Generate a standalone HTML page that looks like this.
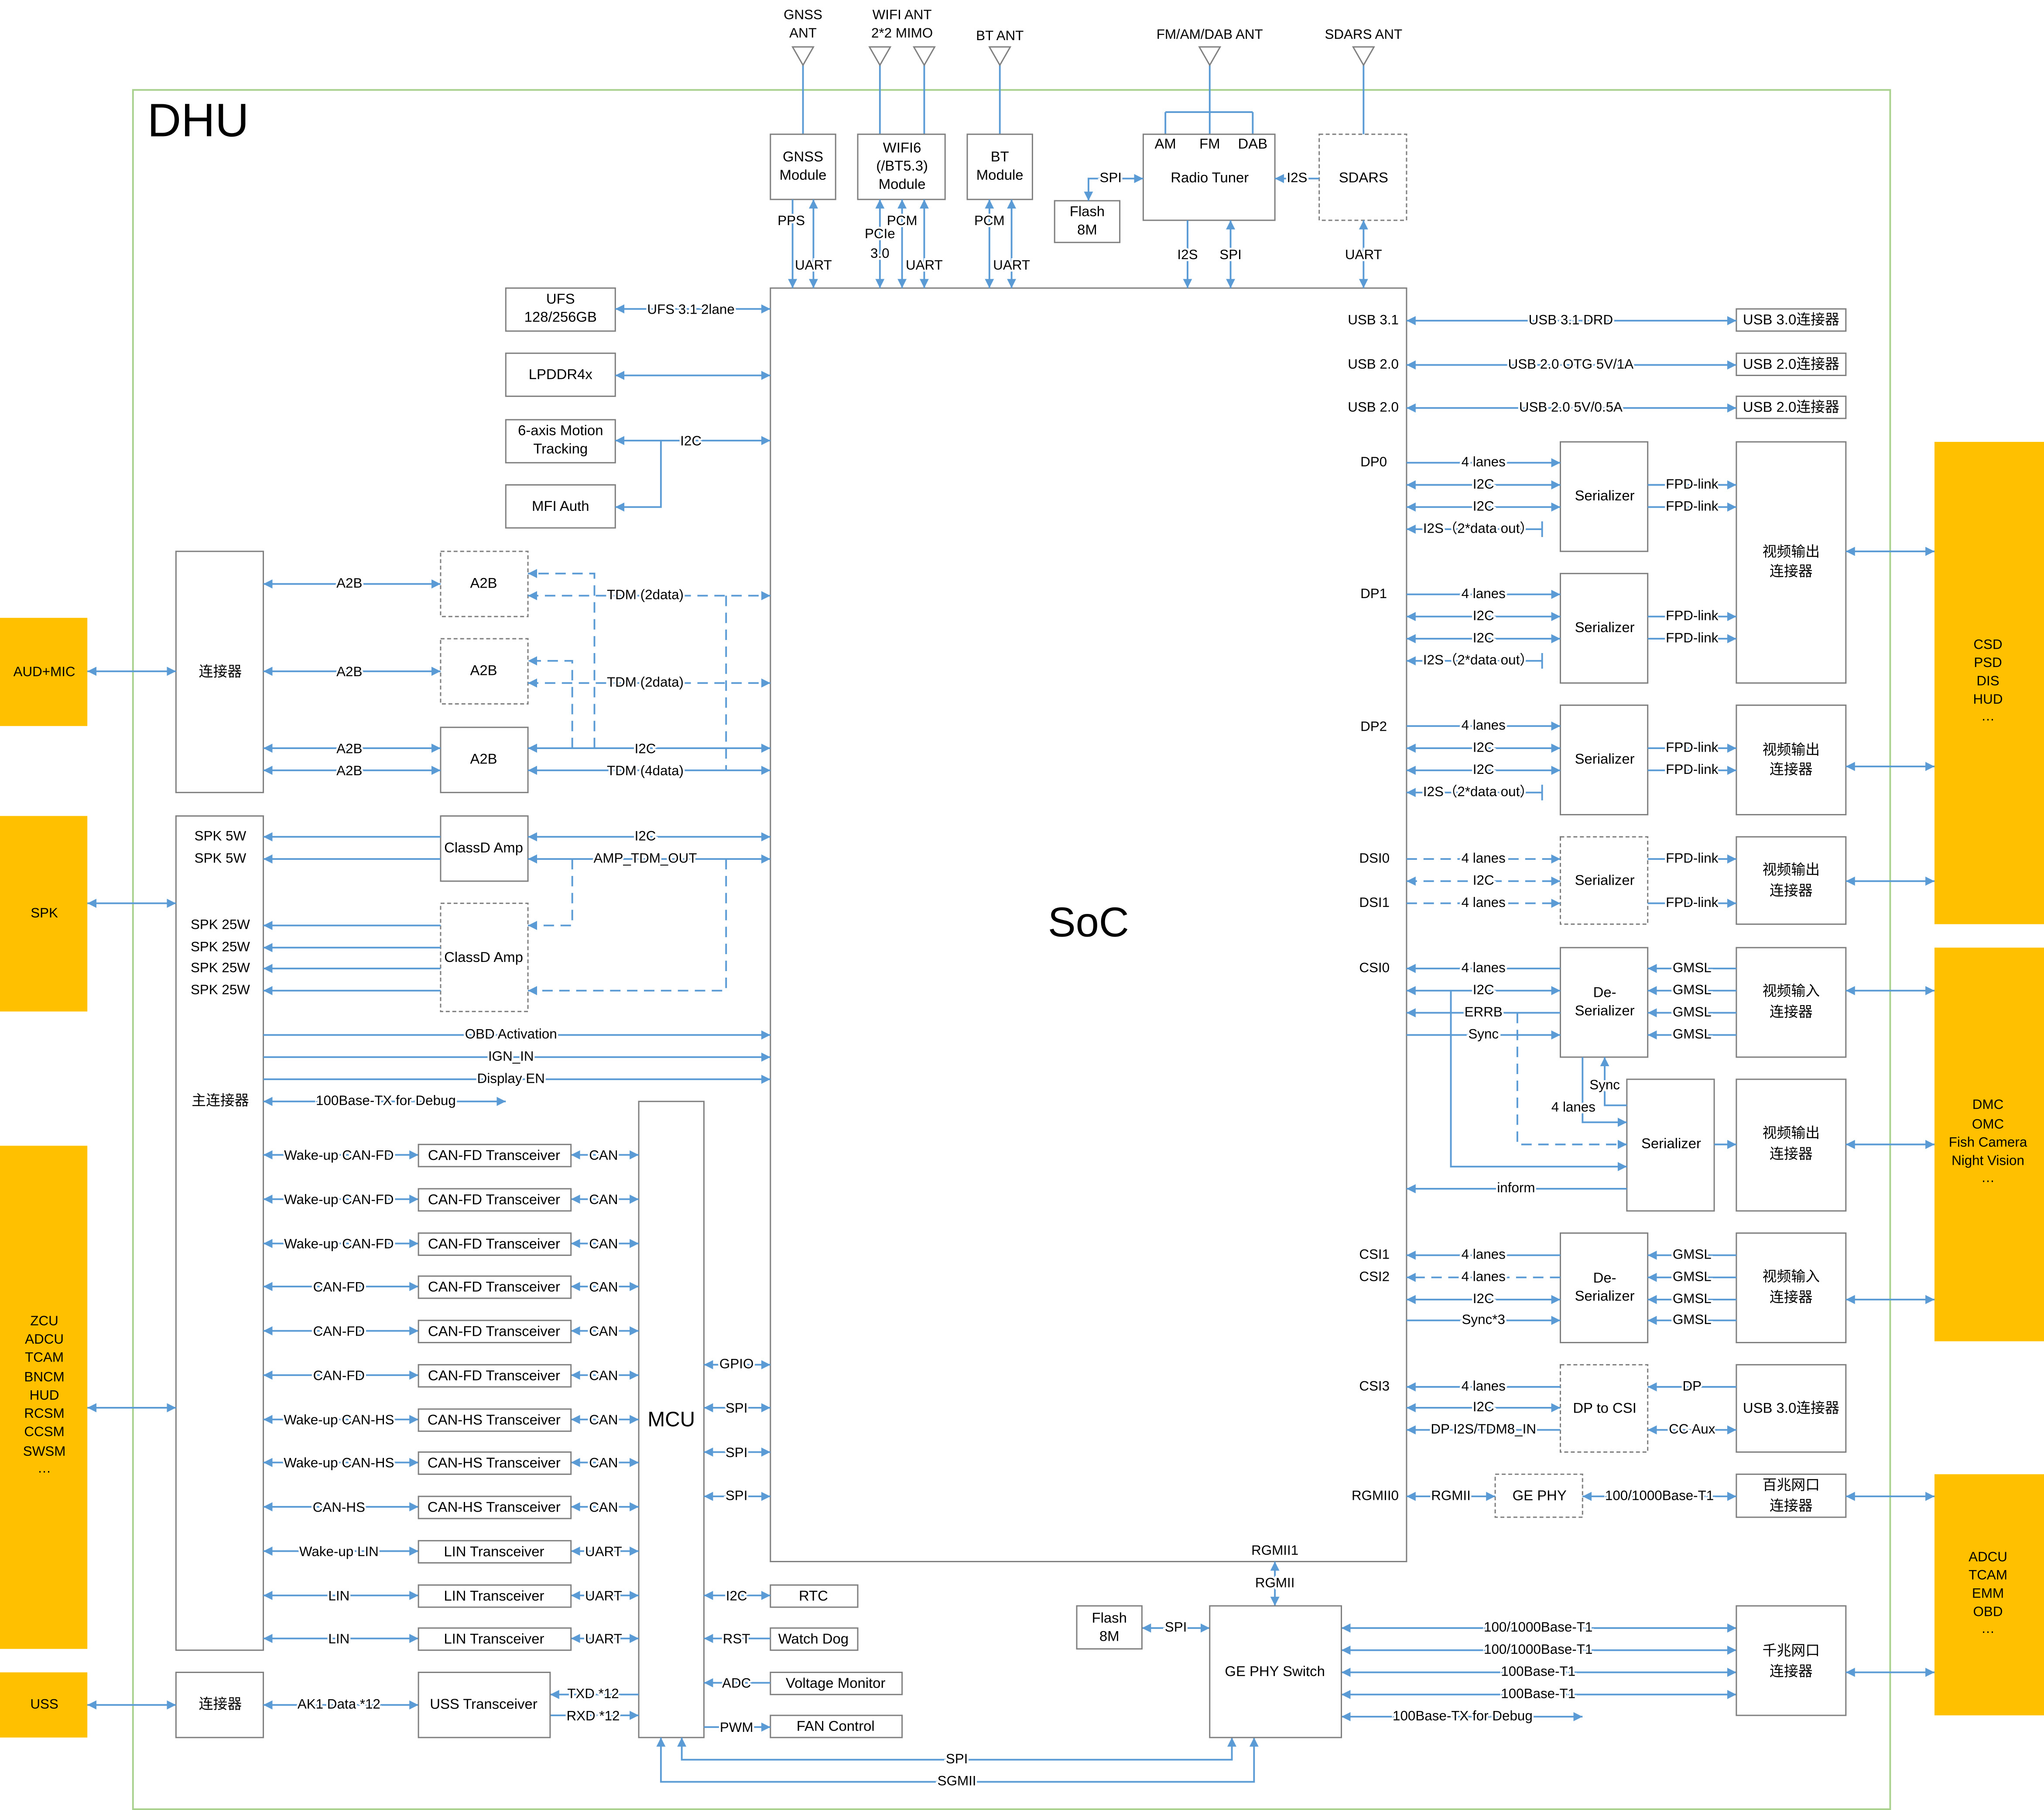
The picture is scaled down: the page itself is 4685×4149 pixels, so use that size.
<!DOCTYPE html>
<html><head><meta charset="utf-8"><style>
html,body{margin:0;padding:0;background:#fff}
svg{display:block}
.l{stroke:#5b9bd5;stroke-width:1.3;fill:none}
.d{stroke:#5b9bd5;stroke-width:1.3;fill:none;stroke-dasharray:8,5}
.b{fill:#fff;stroke:#7f7f7f;stroke-width:1}
.bd{fill:#fff;stroke:#7f7f7f;stroke-width:1;stroke-dasharray:3,2}
.y{fill:#ffc000;stroke:none}
text{font-family:"Liberation Sans","Noto Sans CJK SC",sans-serif;font-size:10.5px;fill:#000;text-anchor:middle;dominant-baseline:middle}
.t{stroke:#fff;stroke-width:3;paint-order:stroke}
.bt{font-size:11px}
</style></head><body>
<svg width="4685" height="4149" viewBox="0 0 1568 1388.6" preserveAspectRatio="none" xmlns="http://www.w3.org/2000/svg">
<defs>
<marker id="a" viewBox="0 0 10 10" refX="10" refY="5" markerWidth="7" markerHeight="7" orient="auto-start-reverse" markerUnits="userSpaceOnUse"><path d="M0,0L10,5L0,10z" fill="#5b9bd5"/></marker>
</defs>
<rect x="102" y="69" width="1348" height="1319" fill="none" stroke="#a9d18e" stroke-width="1.3"/>
<text x="113" y="95" style="font-size:36px;text-anchor:start">DHU</text>

<!-- yellow -->
<rect class="y" x="0" y="474" width="67" height="83"/><text x="34" y="516">AUD+MIC</text>
<rect class="y" x="0" y="626" width="67" height="150"/><text x="34" y="701">SPK</text>
<rect class="y" x="0" y="879" width="67" height="386"/>
<text x="34" y="1014">ZCU</text><text x="34" y="1028">ADCU</text><text x="34" y="1042">TCAM</text><text x="34" y="1057">BNCM</text><text x="34" y="1071">HUD</text><text x="34" y="1085">RCSM</text><text x="34" y="1099">CCSM</text><text x="34" y="1114">SWSM</text><text x="34" y="1127">…</text>
<rect class="y" x="0" y="1283" width="67" height="50"/><text x="34" y="1308">USS</text>
<rect class="y" x="1484" y="339" width="84" height="370"/>
<text x="1525" y="495">CSD</text><text x="1525" y="509">PSD</text><text x="1525" y="523">DIS</text><text x="1525" y="537">HUD</text><text x="1525" y="550">…</text>
<rect class="y" x="1484" y="727" width="84" height="302"/>
<text x="1525" y="848">DMC</text><text x="1525" y="863">OMC</text><text x="1525" y="877">Fish Camera</text><text x="1525" y="891">Night Vision</text><text x="1525" y="904">…</text>
<rect class="y" x="1484" y="1131" width="84" height="185"/>
<text x="1525" y="1195">ADCU</text><text x="1525" y="1209">TCAM</text><text x="1525" y="1223">EMM</text><text x="1525" y="1237">OBD</text><text x="1525" y="1250">…</text>

<!-- main blocks -->
<rect class="b" x="591" y="221" width="488" height="977"/><text x="835" y="710" style="font-size:32px">SoC</text>
<rect class="b" x="490" y="845" width="50" height="488"/><text x="515" y="1090" style="font-size:16px">MCU</text>
<rect class="b" x="135" y="423" width="67" height="185"/><text class="bt" x="169" y="516">连接器</text>
<rect class="b" x="135" y="626" width="67" height="640"/><text class="bt" x="169" y="845">主连接器</text>
<rect class="b" x="135" y="1283" width="67" height="50"/><text class="bt" x="169" y="1308">连接器</text>
<text x="169" y="642">SPK 5W</text><text x="169" y="659">SPK 5W</text>
<text x="169" y="710">SPK 25W</text><text x="169" y="727">SPK 25W</text><text x="169" y="743">SPK 25W</text><text x="169" y="760">SPK 25W</text>

<!-- top modules -->
<g class="l">
<path d="M616 50V103M675 50V103M709 50V103M767 50V103M928 50V86M894 86H961M894 86V103M928 86V103M961 86V103M1046 50V103"/>
</g>
<g fill="#fff" stroke="#7f7f7f">
<polygon points="608,36 624,36 616,50"/><polygon points="667,36 683,36 675,50"/><polygon points="701,36 717,36 709,50"/><polygon points="759,36 775,36 767,50"/><polygon points="920,36 936,36 928,50"/><polygon points="1038,36 1054,36 1046,50"/>
</g>
<text x="616" y="12">GNSS</text><text x="616" y="26">ANT</text>
<text x="692" y="12">WIFI ANT</text><text x="692" y="26">2*2 MIMO</text>
<text x="767" y="28">BT ANT</text><text x="928" y="27">FM/AM/DAB ANT</text><text x="1046" y="27">SDARS ANT</text>
<rect class="b" x="591" y="103" width="50" height="50"/><text class="bt" x="616" y="121">GNSS</text><text class="bt" x="616" y="135">Module</text>
<rect class="b" x="658" y="103" width="67" height="50"/><text class="bt" x="692" y="114">WIFI6</text><text class="bt" x="692" y="128">(/BT5.3)</text><text class="bt" x="692" y="142">Module</text>
<rect class="b" x="742" y="103" width="50" height="50"/><text class="bt" x="767" y="121">BT</text><text class="bt" x="767" y="135">Module</text>
<rect class="b" x="809" y="154" width="50" height="32"/><text class="bt" x="834" y="163">Flash</text><text class="bt" x="834" y="177">8M</text>
<rect class="b" x="877" y="103" width="101" height="66"/><text class="bt" x="894" y="111">AM</text><text class="bt" x="928" y="111">FM</text><text class="bt" x="961" y="111">DAB</text><text class="bt" x="928" y="137">Radio Tuner</text>
<rect class="bd" x="1012" y="103" width="67" height="66"/><text class="bt" x="1046" y="137">SDARS</text>
<g class="l">
<path d="M608 153V221" marker-end="url(#a)"/>
<path d="M624 153V221" marker-start="url(#a)" marker-end="url(#a)"/>
<path d="M675 153V221" marker-start="url(#a)" marker-end="url(#a)"/>
<path d="M692 153V221" marker-start="url(#a)" marker-end="url(#a)"/>
<path d="M709 153V221" marker-start="url(#a)" marker-end="url(#a)"/>
<path d="M759 153V221" marker-start="url(#a)" marker-end="url(#a)"/>
<path d="M776 153V221" marker-start="url(#a)" marker-end="url(#a)"/>
<path d="M877 137H835V154" marker-start="url(#a)" marker-end="url(#a)"/>
<path d="M1012 137H978" marker-end="url(#a)"/>
<path d="M911 169V221" marker-end="url(#a)"/>
<path d="M944 169V221" marker-start="url(#a)" marker-end="url(#a)"/>
<path d="M1046 169V221" marker-start="url(#a)" marker-end="url(#a)"/>
</g>
<text class="t" x="607" y="170">PPS</text><text class="t" x="624" y="204">UART</text>
<text class="t" x="675" y="180">PCIe</text><text class="t" x="675" y="195">3.0</text><text class="t" x="692" y="170">PCM</text><text class="t" x="709" y="204">UART</text>
<text class="t" x="759" y="170">PCM</text><text class="t" x="776" y="204">UART</text>
<text class="t" x="852" y="137">SPI</text><text class="t" x="995" y="137">I2S</text>
<text class="t" x="911" y="196">I2S</text><text class="t" x="944" y="196">SPI</text><text class="t" x="1046" y="196">UART</text>

<!-- left of SoC -->
<rect class="b" x="388" y="221" width="84" height="33"/><text class="bt" x="430" y="230">UFS</text><text class="bt" x="430" y="244">128/256GB</text>
<rect class="b" x="388" y="271" width="84" height="33"/><text class="bt" x="430" y="288">LPDDR4x</text>
<rect class="b" x="388" y="322" width="84" height="33"/><text class="bt" x="430" y="331">6-axis Motion</text><text class="bt" x="430" y="345">Tracking</text>
<rect class="b" x="388" y="372" width="84" height="33"/><text class="bt" x="430" y="389">MFI Auth</text>
<rect class="bd" x="338" y="423" width="67" height="50"/><text class="bt" x="371" y="448">A2B</text>
<rect class="bd" x="338" y="490" width="67" height="50"/><text class="bt" x="371" y="515">A2B</text>
<rect class="b" x="338" y="558" width="67" height="50"/><text class="bt" x="371" y="583">A2B</text>
<rect class="b" x="338" y="626" width="67" height="50"/><text class="bt" x="371" y="651">ClassD Amp</text>
<rect class="bd" x="338" y="693" width="67" height="83"/><text class="bt" x="371" y="735">ClassD Amp</text>
<g class="l">
<path d="M472 237H591" marker-start="url(#a)" marker-end="url(#a)"/>
<path d="M472 288H591" marker-start="url(#a)" marker-end="url(#a)"/>
<path d="M472 338H591" marker-start="url(#a)" marker-end="url(#a)"/>
<path d="M507 338V389H472" marker-end="url(#a)"/>
<path d="M202 448H338" marker-start="url(#a)" marker-end="url(#a)"/>
<path d="M202 515H338" marker-start="url(#a)" marker-end="url(#a)"/>
<path d="M202 574H338" marker-start="url(#a)" marker-end="url(#a)"/>
<path d="M202 591H338" marker-start="url(#a)" marker-end="url(#a)"/>
<path d="M405 574H591" marker-start="url(#a)" marker-end="url(#a)"/>
<path d="M405 591H591" marker-start="url(#a)" marker-end="url(#a)"/>
<path d="M338 642H202" marker-end="url(#a)"/><path d="M338 659H202" marker-end="url(#a)"/>
<path d="M338 710H202" marker-end="url(#a)"/><path d="M338 727H202" marker-end="url(#a)"/>
<path d="M338 743H202" marker-end="url(#a)"/><path d="M338 760H202" marker-end="url(#a)"/>
<path d="M405 642H591" marker-start="url(#a)" marker-end="url(#a)"/>
<path d="M405 659H591" marker-start="url(#a)" marker-end="url(#a)"/>
<path d="M202 794H591" marker-end="url(#a)"/>
<path d="M202 811H591" marker-end="url(#a)"/>
<path d="M202 828H591" marker-end="url(#a)"/>
<path d="M202 845H388" marker-start="url(#a)" marker-end="url(#a)"/>
</g>
<g class="d">
<path d="M405 457H591" marker-start="url(#a)" marker-end="url(#a)"/>
<path d="M405 524H591" marker-start="url(#a)" marker-end="url(#a)"/>
<path d="M456 574V440H405" marker-end="url(#a)"/>
<path d="M439 574V507H405" marker-end="url(#a)"/>
<path d="M557 457V591"/>
<path d="M439 659V710H405" marker-end="url(#a)"/>
<path d="M557 659V760H405" marker-end="url(#a)"/>
</g>
<text class="t" x="530" y="238">UFS 3.1 2lane</text><text class="t" x="530" y="339">I2C</text>
<text class="t" x="268" y="448">A2B</text><text class="t" x="268" y="516">A2B</text><text class="t" x="268" y="575">A2B</text><text class="t" x="268" y="592">A2B</text>
<text class="t" x="495" y="457">TDM (2data)</text><text class="t" x="495" y="524">TDM (2data)</text>
<text class="t" x="495" y="575">I2C</text><text class="t" x="495" y="592">TDM (4data)</text>
<text class="t" x="495" y="642">I2C</text><text class="t" x="495" y="659">AMP_TDM_OUT</text>
<text class="t" x="392" y="794">OBD Activation</text><text class="t" x="392" y="811">IGN_IN</text><text class="t" x="392" y="828">Display EN</text>
<text class="t" x="296" y="845">100Base-TX for Debug</text>

<!-- transceivers -->
<g class="l">
<path d="M202 886H321" marker-start="url(#a)" marker-end="url(#a)"/><path d="M438 886H490" marker-start="url(#a)" marker-end="url(#a)"/>
<path d="M202 920H321" marker-start="url(#a)" marker-end="url(#a)"/><path d="M438 920H490" marker-start="url(#a)" marker-end="url(#a)"/>
<path d="M202 954H321" marker-start="url(#a)" marker-end="url(#a)"/><path d="M438 954H490" marker-start="url(#a)" marker-end="url(#a)"/>
<path d="M202 987H321" marker-start="url(#a)" marker-end="url(#a)"/><path d="M438 987H490" marker-start="url(#a)" marker-end="url(#a)"/>
<path d="M202 1021H321" marker-start="url(#a)" marker-end="url(#a)"/><path d="M438 1021H490" marker-start="url(#a)" marker-end="url(#a)"/>
<path d="M202 1055H321" marker-start="url(#a)" marker-end="url(#a)"/><path d="M438 1055H490" marker-start="url(#a)" marker-end="url(#a)"/>
<path d="M202 1089H321" marker-start="url(#a)" marker-end="url(#a)"/><path d="M438 1089H490" marker-start="url(#a)" marker-end="url(#a)"/>
<path d="M202 1122H321" marker-start="url(#a)" marker-end="url(#a)"/><path d="M438 1122H490" marker-start="url(#a)" marker-end="url(#a)"/>
<path d="M202 1156H321" marker-start="url(#a)" marker-end="url(#a)"/><path d="M438 1156H490" marker-start="url(#a)" marker-end="url(#a)"/>
<path d="M202 1190H321" marker-start="url(#a)" marker-end="url(#a)"/><path d="M438 1190H490" marker-start="url(#a)" marker-end="url(#a)"/>
<path d="M202 1224H321" marker-start="url(#a)" marker-end="url(#a)"/><path d="M438 1224H490" marker-start="url(#a)" marker-end="url(#a)"/>
<path d="M202 1257H321" marker-start="url(#a)" marker-end="url(#a)"/><path d="M438 1257H490" marker-start="url(#a)" marker-end="url(#a)"/>
<path d="M202 1308H321" marker-start="url(#a)" marker-end="url(#a)"/>
<path d="M490 1300H422" marker-end="url(#a)"/><path d="M422 1316H490" marker-end="url(#a)"/>
</g>
<g>
<rect class="b" x="321" y="878" width="117" height="17"/><text class="bt" x="379" y="887">CAN-FD Transceiver</text>
<rect class="b" x="321" y="912" width="117" height="17"/><text class="bt" x="379" y="921">CAN-FD Transceiver</text>
<rect class="b" x="321" y="946" width="117" height="17"/><text class="bt" x="379" y="955">CAN-FD Transceiver</text>
<rect class="b" x="321" y="979" width="117" height="17"/><text class="bt" x="379" y="988">CAN-FD Transceiver</text>
<rect class="b" x="321" y="1013" width="117" height="17"/><text class="bt" x="379" y="1022">CAN-FD Transceiver</text>
<rect class="b" x="321" y="1047" width="117" height="17"/><text class="bt" x="379" y="1056">CAN-FD Transceiver</text>
<rect class="b" x="321" y="1081" width="117" height="17"/><text class="bt" x="379" y="1090">CAN-HS Transceiver</text>
<rect class="b" x="321" y="1114" width="117" height="17"/><text class="bt" x="379" y="1123">CAN-HS Transceiver</text>
<rect class="b" x="321" y="1148" width="117" height="17"/><text class="bt" x="379" y="1157">CAN-HS Transceiver</text>
<rect class="b" x="321" y="1182" width="117" height="17"/><text class="bt" x="379" y="1191">LIN Transceiver</text>
<rect class="b" x="321" y="1216" width="117" height="17"/><text class="bt" x="379" y="1225">LIN Transceiver</text>
<rect class="b" x="321" y="1249" width="117" height="17"/><text class="bt" x="379" y="1258">LIN Transceiver</text>
<rect class="b" x="321" y="1283" width="101" height="50"/><text class="bt" x="371" y="1308">USS Transceiver</text>
</g>
<text class="t" x="260" y="887">Wake-up CAN-FD</text><text class="t" x="260" y="921">Wake-up CAN-FD</text><text class="t" x="260" y="955">Wake-up CAN-FD</text>
<text class="t" x="260" y="988">CAN-FD</text><text class="t" x="260" y="1022">CAN-FD</text><text class="t" x="260" y="1056">CAN-FD</text>
<text class="t" x="260" y="1090">Wake-up CAN-HS</text><text class="t" x="260" y="1123">Wake-up CAN-HS</text><text class="t" x="260" y="1157">CAN-HS</text>
<text class="t" x="260" y="1191">Wake-up LIN</text><text class="t" x="260" y="1225">LIN</text><text class="t" x="260" y="1258">LIN</text>
<text class="t" x="260" y="1308">AK1 Data *12</text>
<text class="t" x="463" y="887">CAN</text><text class="t" x="463" y="921">CAN</text><text class="t" x="463" y="955">CAN</text><text class="t" x="463" y="988">CAN</text><text class="t" x="463" y="1022">CAN</text><text class="t" x="463" y="1056">CAN</text><text class="t" x="463" y="1090">CAN</text><text class="t" x="463" y="1123">CAN</text><text class="t" x="463" y="1157">CAN</text>
<text class="t" x="463" y="1191">UART</text><text class="t" x="463" y="1225">UART</text><text class="t" x="463" y="1258">UART</text>
<text class="t" x="455" y="1300">TXD *12</text><text class="t" x="455" y="1317">RXD *12</text>

<!-- MCU right -->
<rect class="b" x="591" y="1216" width="67" height="17"/><text class="bt" x="624" y="1225">RTC</text>
<rect class="b" x="591" y="1249" width="67" height="17"/><text class="bt" x="624" y="1258">Watch Dog</text>
<rect class="b" x="591" y="1283" width="101" height="17"/><text class="bt" x="641" y="1292">Voltage Monitor</text>
<rect class="b" x="591" y="1316" width="101" height="17"/><text class="bt" x="641" y="1325">FAN Control</text>
<g class="l">
<path d="M540 1047H591" marker-start="url(#a)" marker-end="url(#a)"/>
<path d="M540 1080H591" marker-start="url(#a)" marker-end="url(#a)"/>
<path d="M540 1114H591" marker-start="url(#a)" marker-end="url(#a)"/>
<path d="M540 1148H591" marker-start="url(#a)" marker-end="url(#a)"/>
<path d="M540 1224H591" marker-start="url(#a)" marker-end="url(#a)"/>
<path d="M591 1257H540" marker-end="url(#a)"/>
<path d="M591 1291H540" marker-end="url(#a)"/>
<path d="M540 1325H591" marker-end="url(#a)"/>
<path d="M523 1333V1350H945V1333" marker-start="url(#a)" marker-end="url(#a)"/>
<path d="M507 1333V1367H962V1333" marker-start="url(#a)" marker-end="url(#a)"/>
<path d="M978 1198V1232" marker-start="url(#a)" marker-end="url(#a)"/>
<path d="M876 1249H928" marker-start="url(#a)" marker-end="url(#a)"/>
<path d="M1029 1249H1332" marker-start="url(#a)" marker-end="url(#a)"/>
<path d="M1029 1266H1332" marker-start="url(#a)" marker-end="url(#a)"/>
<path d="M1029 1283H1332" marker-start="url(#a)" marker-end="url(#a)"/>
<path d="M1029 1300H1332" marker-start="url(#a)" marker-end="url(#a)"/>
<path d="M1029 1317H1214" marker-start="url(#a)" marker-end="url(#a)"/>
</g>
<text class="t" x="565" y="1047">GPIO</text><text class="t" x="565" y="1081">SPI</text><text class="t" x="565" y="1115">SPI</text><text class="t" x="565" y="1148">SPI</text>
<text class="t" x="565" y="1225">I2C</text><text class="t" x="565" y="1258">RST</text><text class="t" x="565" y="1292">ADC</text><text class="t" x="565" y="1326">PWM</text>
<text class="t" x="734" y="1350">SPI</text><text class="t" x="734" y="1367">SGMII</text>
<text x="978" y="1190">RGMII1</text><text class="t" x="978" y="1215">RGMII</text>
<rect class="b" x="826" y="1232" width="50" height="33"/><text class="bt" x="851" y="1242">Flash</text><text class="bt" x="851" y="1256">8M</text>
<text class="t" x="902" y="1249">SPI</text>
<rect class="b" x="928" y="1232" width="101" height="101"/><text class="bt" x="978" y="1283">GE PHY Switch</text>
<text class="t" x="1180" y="1249">100/1000Base-T1</text><text class="t" x="1180" y="1266">100/1000Base-T1</text>
<text class="t" x="1180" y="1283">100Base-T1</text><text class="t" x="1180" y="1300">100Base-T1</text>
<text class="t" x="1122" y="1317">100Base-TX for Debug</text>

<!-- right side -->
<g>
<rect class="b" x="1332" y="237" width="84" height="17"/><text class="bt" x="1374" y="246">USB 3.0连接器</text>
<rect class="b" x="1332" y="271" width="84" height="17"/><text class="bt" x="1374" y="280">USB 2.0连接器</text>
<rect class="b" x="1332" y="304" width="84" height="17"/><text class="bt" x="1374" y="313">USB 2.0连接器</text>
<rect class="b" x="1197" y="339" width="67" height="84"/><text class="bt" x="1231" y="381">Serializer</text>
<rect class="b" x="1197" y="440" width="67" height="84"/><text class="bt" x="1231" y="482">Serializer</text>
<rect class="b" x="1197" y="541" width="67" height="84"/><text class="bt" x="1231" y="583">Serializer</text>
<rect class="bd" x="1197" y="642" width="67" height="67"/><text class="bt" x="1231" y="676">Serializer</text>
<rect class="b" x="1197" y="727" width="67" height="84"/><text class="bt" x="1231" y="762">De-</text><text class="bt" x="1231" y="776">Serializer</text>
<rect class="b" x="1248" y="828" width="67" height="101"/><text class="bt" x="1282" y="878">Serializer</text>
<rect class="b" x="1197" y="946" width="67" height="84"/><text class="bt" x="1231" y="981">De-</text><text class="bt" x="1231" y="995">Serializer</text>
<rect class="bd" x="1197" y="1047" width="67" height="67"/><text class="bt" x="1231" y="1081">DP to CSI</text>
<rect class="bd" x="1147" y="1131" width="67" height="33"/><text class="bt" x="1181" y="1148">GE PHY</text>
<rect class="b" x="1332" y="339" width="84" height="185"/><text class="bt" x="1374" y="424">视频输出</text><text class="bt" x="1374" y="439">连接器</text>
<rect class="b" x="1332" y="541" width="84" height="84"/><text class="bt" x="1374" y="576">视频输出</text><text class="bt" x="1374" y="591">连接器</text>
<rect class="b" x="1332" y="642" width="84" height="67"/><text class="bt" x="1374" y="668">视频输出</text><text class="bt" x="1374" y="684">连接器</text>
<rect class="b" x="1332" y="727" width="84" height="84"/><text class="bt" x="1374" y="761">视频输入</text><text class="bt" x="1374" y="777">连接器</text>
<rect class="b" x="1332" y="828" width="84" height="101"/><text class="bt" x="1374" y="870">视频输出</text><text class="bt" x="1374" y="886">连接器</text>
<rect class="b" x="1332" y="946" width="84" height="84"/><text class="bt" x="1374" y="980">视频输入</text><text class="bt" x="1374" y="996">连接器</text>
<rect class="b" x="1332" y="1047" width="84" height="67"/><text class="bt" x="1374" y="1081">USB 3.0连接器</text>
<rect class="b" x="1332" y="1131" width="84" height="33"/><text class="bt" x="1374" y="1140">百兆网口</text><text class="bt" x="1374" y="1156">连接器</text>
<rect class="b" x="1332" y="1232" width="84" height="84"/><text class="bt" x="1374" y="1267">千兆网口</text><text class="bt" x="1374" y="1283">连接器</text>
</g>
<g style="text-anchor:end">
<text x="1073" y="246" style="text-anchor:end">USB 3.1</text><text x="1073" y="280" style="text-anchor:end">USB 2.0</text><text x="1073" y="313" style="text-anchor:end">USB 2.0</text>
<text x="1064" y="355" style="text-anchor:end">DP0</text><text x="1064" y="456" style="text-anchor:end">DP1</text><text x="1064" y="558" style="text-anchor:end">DP2</text>
<text x="1066" y="659" style="text-anchor:end">DSI0</text><text x="1066" y="693" style="text-anchor:end">DSI1</text><text x="1066" y="743" style="text-anchor:end">CSI0</text>
<text x="1066" y="963" style="text-anchor:end">CSI1</text><text x="1066" y="980" style="text-anchor:end">CSI2</text><text x="1066" y="1064" style="text-anchor:end">CSI3</text>
<text x="1073" y="1148" style="text-anchor:end">RGMII0</text>
</g>
<g class="l">
<path d="M1079 246H1332" marker-start="url(#a)" marker-end="url(#a)"/>
<path d="M1079 280H1332" marker-start="url(#a)" marker-end="url(#a)"/>
<path d="M1079 313H1332" marker-start="url(#a)" marker-end="url(#a)"/>
<path d="M1079 355H1197" marker-end="url(#a)"/><path d="M1079 372H1197" marker-start="url(#a)" marker-end="url(#a)"/><path d="M1079 389H1197" marker-start="url(#a)" marker-end="url(#a)"/><path d="M1183 406H1079" marker-end="url(#a)"/>
<path d="M1264 372H1332" marker-end="url(#a)"/><path d="M1264 389H1332" marker-end="url(#a)"/>
<path d="M1079 456H1197" marker-end="url(#a)"/><path d="M1079 473H1197" marker-start="url(#a)" marker-end="url(#a)"/><path d="M1079 490H1197" marker-start="url(#a)" marker-end="url(#a)"/><path d="M1183 507H1079" marker-end="url(#a)"/>
<path d="M1264 473H1332" marker-end="url(#a)"/><path d="M1264 490H1332" marker-end="url(#a)"/>
<path d="M1079 557H1197" marker-end="url(#a)"/><path d="M1079 574H1197" marker-start="url(#a)" marker-end="url(#a)"/><path d="M1079 591H1197" marker-start="url(#a)" marker-end="url(#a)"/><path d="M1183 608H1079" marker-end="url(#a)"/>
<path d="M1264 574H1332" marker-end="url(#a)"/><path d="M1264 591H1332" marker-end="url(#a)"/>
<path d="M1264 659H1332" marker-end="url(#a)"/><path d="M1264 693H1332" marker-end="url(#a)"/>
<path d="M1197 743H1079" marker-end="url(#a)"/><path d="M1079 760H1197" marker-start="url(#a)" marker-end="url(#a)"/><path d="M1197 777H1079" marker-end="url(#a)"/><path d="M1079 794H1197" marker-end="url(#a)"/>
<path d="M1332 743H1264" marker-end="url(#a)"/><path d="M1332 760H1264" marker-end="url(#a)"/><path d="M1332 777H1264" marker-end="url(#a)"/><path d="M1332 794H1264" marker-end="url(#a)"/>
<path d="M1113 760V895H1248" marker-end="url(#a)"/>
<path d="M1214 811V861H1248" marker-end="url(#a)"/>
<path d="M1248 848H1231V811" marker-end="url(#a)"/>
<path d="M1248 912H1079" marker-end="url(#a)"/>
<path d="M1315 878H1332" marker-end="url(#a)"/>
<path d="M1197 963H1079" marker-end="url(#a)"/><path d="M1079 997H1197" marker-start="url(#a)" marker-end="url(#a)"/><path d="M1079 1013H1197" marker-end="url(#a)"/>
<path d="M1332 963H1264" marker-end="url(#a)"/><path d="M1332 980H1264" marker-end="url(#a)"/><path d="M1332 997H1264" marker-end="url(#a)"/><path d="M1332 1013H1264" marker-end="url(#a)"/>
<path d="M1197 1064H1079" marker-end="url(#a)"/><path d="M1079 1080H1197" marker-start="url(#a)" marker-end="url(#a)"/><path d="M1197 1097H1079" marker-end="url(#a)"/>
<path d="M1332 1064H1264" marker-end="url(#a)"/><path d="M1264 1097H1332" marker-start="url(#a)" marker-end="url(#a)"/>
<path d="M1079 1148H1147" marker-start="url(#a)" marker-end="url(#a)"/><path d="M1214 1148H1332" marker-start="url(#a)" marker-end="url(#a)"/>
<path d="M1416 423H1484" marker-start="url(#a)" marker-end="url(#a)"/>
<path d="M1416 588H1484" marker-start="url(#a)" marker-end="url(#a)"/>
<path d="M1416 676H1484" marker-start="url(#a)" marker-end="url(#a)"/>
<path d="M1416 760H1484" marker-start="url(#a)" marker-end="url(#a)"/>
<path d="M1416 878H1484" marker-start="url(#a)" marker-end="url(#a)"/>
<path d="M1416 997H1484" marker-start="url(#a)" marker-end="url(#a)"/>
<path d="M1416 1148H1484" marker-start="url(#a)" marker-end="url(#a)"/>
<path d="M1416 1283H1484" marker-start="url(#a)" marker-end="url(#a)"/>
<path d="M67 515H135" marker-start="url(#a)" marker-end="url(#a)"/>
<path d="M67 693H135" marker-start="url(#a)" marker-end="url(#a)"/>
<path d="M67 1080H135" marker-start="url(#a)" marker-end="url(#a)"/>
<path d="M67 1308H135" marker-start="url(#a)" marker-end="url(#a)"/>
</g>
<g class="d">
<path d="M1079 659H1197" marker-end="url(#a)"/><path d="M1079 676H1197" marker-start="url(#a)" marker-end="url(#a)"/><path d="M1079 693H1197" marker-end="url(#a)"/>
<path d="M1164 777V878H1248" marker-end="url(#a)"/>
<path d="M1197 980H1079" marker-end="url(#a)"/>
</g>
<g stroke="#5b9bd5" stroke-width="1.3"><path d="M1183 400V412M1183 501V513M1183 602V614"/></g>
<text class="t" x="1205" y="246">USB 3.1 DRD</text><text class="t" x="1205" y="280">USB 2.0 OTG  5V/1A</text><text class="t" x="1205" y="313">USB 2.0  5V/0.5A</text>
<text class="t" x="1138" y="355">4 lanes</text><text class="t" x="1138" y="372">I2C</text><text class="t" x="1138" y="389">I2C</text><text class="t" x="1134" y="406">I2S（2*data out）</text>
<text class="t" x="1138" y="456">4 lanes</text><text class="t" x="1138" y="473">I2C</text><text class="t" x="1138" y="490">I2C</text><text class="t" x="1134" y="507">I2S（2*data out）</text>
<text class="t" x="1138" y="557">4 lanes</text><text class="t" x="1138" y="574">I2C</text><text class="t" x="1138" y="591">I2C</text><text class="t" x="1134" y="608">I2S（2*data out）</text>
<text class="t" x="1298" y="372">FPD-link</text><text class="t" x="1298" y="389">FPD-link</text>
<text class="t" x="1298" y="473">FPD-link</text><text class="t" x="1298" y="490">FPD-link</text>
<text class="t" x="1298" y="574">FPD-link</text><text class="t" x="1298" y="591">FPD-link</text>
<text class="t" x="1138" y="659">4 lanes</text><text class="t" x="1138" y="676">I2C</text><text class="t" x="1138" y="693">4 lanes</text>
<text class="t" x="1298" y="659">FPD-link</text><text class="t" x="1298" y="693">FPD-link</text>
<text class="t" x="1138" y="743">4 lanes</text><text class="t" x="1138" y="760">I2C</text><text class="t" x="1138" y="777">ERRB</text><text class="t" x="1138" y="794">Sync</text>
<text class="t" x="1298" y="743">GMSL</text><text class="t" x="1298" y="760">GMSL</text><text class="t" x="1298" y="777">GMSL</text><text class="t" x="1298" y="794">GMSL</text>
<text class="t" x="1231" y="833">Sync</text><text class="t" x="1207" y="850">4 lanes</text>
<text class="t" x="1163" y="912">inform</text>
<text class="t" x="1138" y="963">4 lanes</text><text class="t" x="1138" y="980">4 lanes</text><text class="t" x="1138" y="997">I2C</text><text class="t" x="1138" y="1013">Sync*3</text>
<text class="t" x="1298" y="963">GMSL</text><text class="t" x="1298" y="980">GMSL</text><text class="t" x="1298" y="997">GMSL</text><text class="t" x="1298" y="1013">GMSL</text>
<text class="t" x="1138" y="1064">4 lanes</text><text class="t" x="1138" y="1080">I2C</text><text class="t" x="1138" y="1097">DP I2S/TDM8_IN</text>
<text class="t" x="1298" y="1064">DP</text><text class="t" x="1298" y="1097">CC Aux</text>
<text class="t" x="1113" y="1148">RGMII</text><text class="t" x="1273" y="1148">100/1000Base-T1</text>
</svg>
</body></html>
